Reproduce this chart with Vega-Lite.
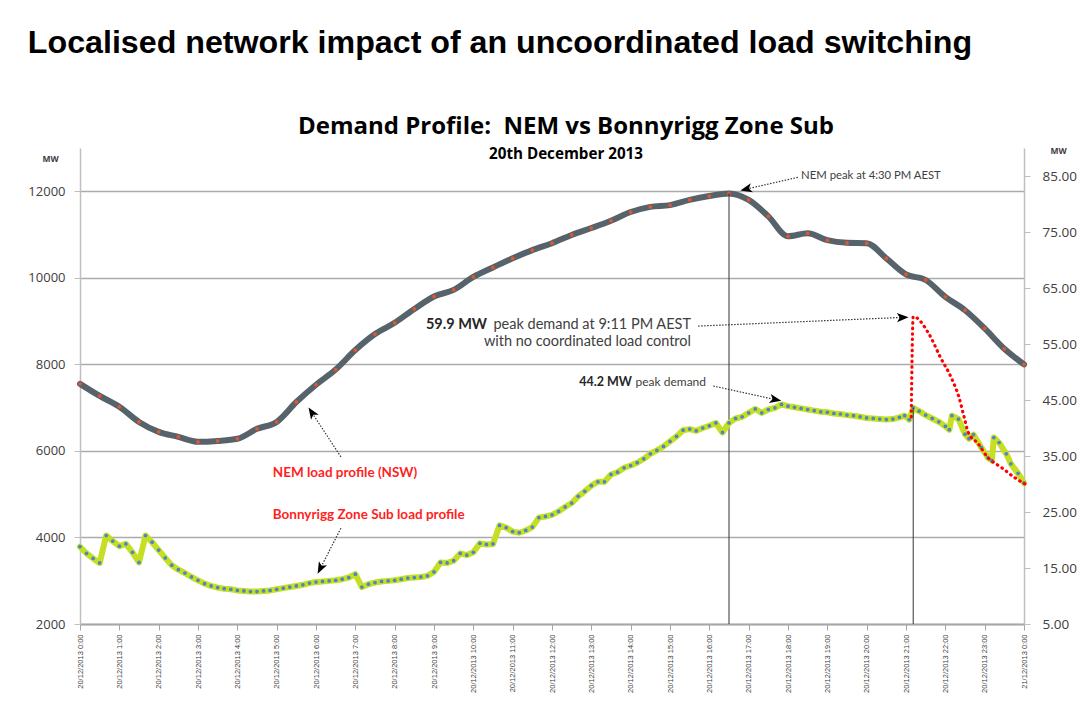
{
  "$schema": "https://vega.github.io/schema/vega-lite/v6.json",
  "background": "white",
  "padding": {"left": 27, "top": 26, "right": 0, "bottom": 0},
  "title": {"text": "Localised network impact of an uncoordinated load switching", "anchor": "start", "font": "Liberation Sans", "fontSize": 32.2, "fontWeight": "bold", "color": "#000000", "offset": 55},
  "config": {"view": {"stroke": null}},
  "vconcat": [
    {
      "width": 944,
      "height": 476,
      "title": {"text": "Demand Profile:\u00a0 NEM vs Bonnyrigg Zone Sub", "subtitle": "20th December 2013", "anchor": "middle", "dx": 14, "font": "Open Sans", "fontSize": 24, "fontWeight": "bold", "color": "#000000", "subtitleFont": "Open Sans", "subtitleFontSize": 15.2, "subtitleFontWeight": "bold", "subtitleColor": "#000000", "subtitlePadding": 8, "offset": -16},
      "resolve": {"scale": {"y": "independent"}, "axis": {"x": "independent"}},
      "layer": [
        {
          "layer": [
            {
              "data": {"values": [
                {"t":0,"v":7550},{"t":30,"v":7270},{"t":60,"v":7020},{"t":90,"v":6670},{"t":120,"v":6440},{"t":150,"v":6325},{"t":180,"v":6210},{"t":210,"v":6230},{"t":240,"v":6280},{"t":270,"v":6510},{"t":300,"v":6670},{"t":330,"v":7130},{"t":360,"v":7530},{"t":390,"v":7880},{"t":420,"v":8330},{"t":450,"v":8700},{"t":480,"v":8960},{"t":510,"v":9280},{"t":540,"v":9570},{"t":570,"v":9720},{"t":600,"v":10020},{"t":630,"v":10240},{"t":660,"v":10450},{"t":690,"v":10640},{"t":720,"v":10800},{"t":750,"v":10990},{"t":780,"v":11150},{"t":810,"v":11320},{"t":840,"v":11520},{"t":870,"v":11640},{"t":900,"v":11680},{"t":930,"v":11800},{"t":960,"v":11890},{"t":990,"v":11950},{"t":1020,"v":11800},{"t":1050,"v":11420},{"t":1080,"v":10960},{"t":1110,"v":11030},{"t":1140,"v":10870},{"t":1170,"v":10810},{"t":1200,"v":10800},{"t":1230,"v":10450},{"t":1260,"v":10080},{"t":1290,"v":9950},{"t":1320,"v":9560},{"t":1350,"v":9250},{"t":1380,"v":8830},{"t":1410,"v":8360},{"t":1440,"v":8000}
              ]},
              "layer": [
                {
                  "mark": {"type": "line", "interpolate": "monotone", "color": "#56636b", "strokeWidth": 6, "strokeCap": "round"},
                  "encoding": {
                    "x": {"field": "t", "type": "quantitative", "scale": {"domain": [0, 1440], "nice": false, "zero": false},
                      "axis": {"orient": "bottom", "title": null, "values": [0,120,240,360,480,600,720,840,960,1080,1200,1320,1440],
                        "labelExpr": "datum.value >= 1440 ? '21/12/2013 0:00' : '20/12/2013 ' + floor(datum.value/60) + ':00'",
                        "labelAngle": 270, "labelFont": "Liberation Sans", "labelFontSize": 7.5, "labelColor": "#404040", "labelOverlap": false, "labelFlush": false, "labelPadding": 4,
                        "tickSize": 6, "tickColor": "#a6a6a6", "domainColor": "#a6a6a6", "domainWidth": 1.5, "grid": false}},
                    "y": {"field": "v", "type": "quantitative", "scale": {"domain": [2000, 13000], "nice": false, "zero": false},
                      "axis": {"orient": "left", "title": "MW", "values": [2000,4000,6000,8000,10000,12000], "format": "d",
                        "grid": true, "gridColor": "#ababab", "gridWidth": 1.5, "domainColor": "#bfbfbf", "domainWidth": 1.5, "tickColor": "#bfbfbf", "tickSize": 6,
                        "labelFont": "Open Sans", "labelFontSize": 13, "labelColor": "#404040", "labelPadding": 9,
                        "titleAngle": 0, "titleX": -30, "titleY": 10, "titleAlign": "center", "titleBaseline": "middle", "titleFont": "Open Sans", "titleFontSize": 8.5, "titleFontWeight": "bold", "titleColor": "#404040"}}
                  }
                },
                {
                  "mark": {"type": "point", "filled": true, "color": "#e5562c", "size": 14, "opacity": 1},
                  "encoding": {"x": {"field": "t", "type": "quantitative"}, "y": {"field": "v", "type": "quantitative"}}
                }
              ]
            },
            {
              "data": {"values": [{"t": 990, "v": 2000, "v2": 11950}]},
              "mark": {"type": "rule", "color": "#333333", "strokeWidth": 1},
              "encoding": {"x": {"field": "t", "type": "quantitative"}, "y": {"field": "v", "type": "quantitative"}, "y2": {"field": "v2"}}
            },
            {
              "data": {"values": [{"t": 1095, "v": 12323, "t2": 1017, "v2": 12053}, {"t": 398, "v": 5863, "t2": 354, "v2": 6878}]},
              "mark": {"type": "rule", "color": "#333333", "strokeWidth": 1.2, "strokeDash": [1.5, 1.5]},
              "encoding": {"x": {"field": "t", "type": "quantitative"}, "x2": {"field": "t2"}, "y": {"field": "v", "type": "quantitative"}, "y2": {"field": "v2"}}
            },
            {
              "data": {"values": [{"t": 1017, "v": 12053}]},
              "mark": {"type": "point", "shape": "M0,-1L0.7,0.8L0,0.35L-0.7,0.8Z", "filled": true, "color": "#000000", "opacity": 1, "size": 170, "angle": 257},
              "encoding": {"x": {"field": "t", "type": "quantitative"}, "y": {"field": "v", "type": "quantitative"}}
            },
            {
              "data": {"values": [{"t": 354, "v": 6878}]},
              "mark": {"type": "point", "shape": "M0,-1L0.7,0.8L0,0.35L-0.7,0.8Z", "filled": true, "color": "#000000", "opacity": 1, "size": 170, "angle": 327},
              "encoding": {"x": {"field": "t", "type": "quantitative"}, "y": {"field": "v", "type": "quantitative"}}
            },
            {
              "data": {"values": [{"t": 1100, "v": 12346, "label": "NEM peak at 4:30 PM AEST"}]},
              "mark": {"type": "text", "align": "left", "baseline": "middle", "font": "Lato", "fontSize": 11.3, "color": "#404040"},
              "encoding": {"x": {"field": "t", "type": "quantitative"}, "y": {"field": "v", "type": "quantitative"}, "text": {"field": "label"}}
            },
            {
              "data": {"values": [{"t": 294, "v": 5494, "label": "NEM load profile (NSW)"}]},
              "mark": {"type": "text", "align": "left", "baseline": "middle", "font": "Lato", "fontSize": 13.5, "fontWeight": "bold", "color": "#ff1f1f"},
              "encoding": {"x": {"field": "t", "type": "quantitative"}, "y": {"field": "v", "type": "quantitative"}, "text": {"field": "label"}}
            }
          ]
        },
        {
          "layer": [
            {
              "data": {"values": [
                {"t":0,"v":18.8},{"t":10,"v":17.6},{"t":20,"v":16.7},{"t":30,"v":15.9},{"t":40,"v":20.8},{"t":50,"v":19.8},{"t":60,"v":18.9},{"t":70,"v":19.3},{"t":80,"v":17.8},{"t":90,"v":16.0},{"t":100,"v":20.8},{"t":110,"v":19.6},{"t":120,"v":18.2},{"t":130,"v":16.8},{"t":140,"v":15.5},{"t":150,"v":14.7},{"t":160,"v":14.1},{"t":170,"v":13.4},{"t":180,"v":12.8},{"t":190,"v":12.2},{"t":200,"v":11.8},{"t":210,"v":11.5},{"t":220,"v":11.3},{"t":230,"v":11.2},{"t":240,"v":11.0},{"t":250,"v":10.9},{"t":260,"v":10.8},{"t":270,"v":10.8},{"t":280,"v":10.9},{"t":290,"v":11.0},{"t":300,"v":11.2},{"t":310,"v":11.4},{"t":320,"v":11.6},{"t":330,"v":11.8},{"t":340,"v":12.0},{"t":350,"v":12.3},{"t":360,"v":12.5},{"t":370,"v":12.6},{"t":380,"v":12.7},{"t":390,"v":12.8},{"t":400,"v":13.0},{"t":410,"v":13.3},{"t":420,"v":13.9},{"t":430,"v":11.6},{"t":440,"v":12.1},{"t":450,"v":12.4},{"t":460,"v":12.6},{"t":470,"v":12.7},{"t":480,"v":12.8},{"t":490,"v":13.0},{"t":500,"v":13.2},{"t":510,"v":13.3},{"t":520,"v":13.4},{"t":530,"v":13.6},{"t":540,"v":14.3},{"t":550,"v":16.0},{"t":560,"v":15.9},{"t":570,"v":16.3},{"t":580,"v":17.6},{"t":590,"v":17.3},{"t":600,"v":17.8},{"t":610,"v":19.4},{"t":620,"v":19.2},{"t":630,"v":19.3},{"t":640,"v":22.6},{"t":650,"v":22.2},{"t":660,"v":21.5},{"t":670,"v":21.3},{"t":680,"v":21.7},{"t":690,"v":22.3},{"t":700,"v":24.0},{"t":710,"v":24.2},{"t":720,"v":24.5},{"t":730,"v":25.1},{"t":740,"v":25.9},{"t":750,"v":26.6},{"t":760,"v":27.8},{"t":770,"v":28.7},{"t":780,"v":29.7},{"t":790,"v":30.4},{"t":800,"v":30.4},{"t":810,"v":31.7},{"t":820,"v":32.1},{"t":830,"v":32.9},{"t":840,"v":33.3},{"t":850,"v":33.8},{"t":860,"v":34.5},{"t":870,"v":35.4},{"t":880,"v":36.0},{"t":890,"v":36.7},{"t":900,"v":37.6},{"t":910,"v":38.5},{"t":920,"v":39.6},{"t":930,"v":39.8},{"t":940,"v":39.5},{"t":950,"v":40.0},{"t":960,"v":40.4},{"t":970,"v":40.9},{"t":980,"v":39.2},{"t":990,"v":40.9},{"t":1000,"v":41.7},{"t":1010,"v":42.0},{"t":1020,"v":42.7},{"t":1030,"v":43.4},{"t":1040,"v":42.7},{"t":1050,"v":43.3},{"t":1060,"v":43.6},{"t":1070,"v":44.2},{"t":1080,"v":43.9},{"t":1090,"v":43.7},{"t":1100,"v":43.5},{"t":1110,"v":43.3},{"t":1120,"v":43.1},{"t":1130,"v":42.9},{"t":1140,"v":42.8},{"t":1150,"v":42.6},{"t":1160,"v":42.5},{"t":1170,"v":42.3},{"t":1180,"v":42.2},{"t":1190,"v":42.0},{"t":1200,"v":41.8},{"t":1210,"v":41.7},{"t":1220,"v":41.6},{"t":1230,"v":41.5},{"t":1240,"v":41.6},{"t":1250,"v":41.9},{"t":1258,"v":42.2},{"t":1265,"v":41.5},{"t":1271,"v":43.6},{"t":1280,"v":43.0},{"t":1290,"v":42.3},{"t":1300,"v":41.7},{"t":1310,"v":41.1},{"t":1320,"v":40.3},{"t":1326,"v":39.7},{"t":1330,"v":42.2},{"t":1340,"v":41.6},{"t":1350,"v":38.9},{"t":1356,"v":38.1},{"t":1363,"v":38.8},{"t":1375,"v":36.5},{"t":1385,"v":34.7},{"t":1391,"v":34.2},{"t":1394,"v":38.3},{"t":1402,"v":37.4},{"t":1413,"v":35.4},{"t":1420,"v":33.6},{"t":1431,"v":31.9},{"t":1440,"v":30.2}
              ]},
              "layer": [
                {
                  "mark": {"type": "line", "color": "#c6df23", "strokeWidth": 6, "strokeCap": "round", "strokeJoin": "round"},
                  "encoding": {
                    "x": {"field": "t", "type": "quantitative",
                      "axis": {"orient": "bottom", "title": null, "values": [60,180,300,420,540,660,780,900,1020,1140,1260,1380],
                        "labelExpr": "'20/12/2013 ' + floor(datum.value/60) + ':00'",
                        "labelAngle": 270, "labelFont": "Liberation Sans", "labelFontSize": 7.5, "labelColor": "#404040", "labelOverlap": false, "labelFlush": false, "labelPadding": 4,
                        "tickSize": 6, "tickColor": "#a6a6a6", "domainColor": "#a6a6a6", "domainWidth": 1.5, "grid": false}},
                    "y": {"field": "v", "type": "quantitative", "scale": {"domain": [5, 90], "nice": false, "zero": false},
                      "axis": {"orient": "right", "title": "MW", "values": [5,15,25,35,45,55,65,75,85], "format": ".2f", "grid": false,
                        "domainColor": "#bfbfbf", "domainWidth": 1.5, "tickColor": "#bfbfbf", "tickSize": 6,
                        "labelFont": "Open Sans", "labelFontSize": 13.5, "labelColor": "#404040", "labelPadding": 12,
                        "titleAngle": 0, "titleX": 34, "titleY": 2, "titleAlign": "center", "titleBaseline": "middle", "titleFont": "Open Sans", "titleFontSize": 8.5, "titleFontWeight": "bold", "titleColor": "#404040"}}
                  }
                },
                {
                  "mark": {"type": "point", "filled": true, "color": "#4a86c8", "size": 14, "opacity": 1},
                  "encoding": {"x": {"field": "t", "type": "quantitative"}, "y": {"field": "v", "type": "quantitative"}}
                }
              ]
            },
            {
              "data": {"values": [{"t":1268,"v":42.0},{"t":1271,"v":59.9},{"t":1294,"v":57.0},{"t":1313,"v":52.5},{"t":1329,"v":49.0},{"t":1341,"v":45.4},{"t":1349,"v":41.8},{"t":1355,"v":39.2},{"t":1370,"v":37.2},{"t":1385,"v":34.7},{"t":1405,"v":33.0},{"t":1425,"v":31.2},{"t":1440,"v":30.1},{"t":1447,"v":29.6}]},
              "mark": {"type": "line", "interpolate": "monotone", "color": "#ff0000", "strokeWidth": 3.2, "strokeCap": "round", "strokeDash": [0.5, 5]},
              "encoding": {"x": {"field": "t", "type": "quantitative"}, "y": {"field": "v", "type": "quantitative"}}
            },
            {
              "data": {"values": [{"t": 1271, "v": 5, "v2": 43.6}]},
              "mark": {"type": "rule", "color": "#333333", "strokeWidth": 1},
              "encoding": {"x": {"field": "t", "type": "quantitative"}, "y": {"field": "v", "type": "quantitative"}, "y2": {"field": "v2"}}
            },
            {
              "data": {"values": [{"t": 943, "v": 58.2, "t2": 1254, "v2": 59.75}, {"t": 966, "v": 47.5, "t2": 1060, "v2": 45.09}, {"t": 398, "v": 22.1, "t2": 367, "v2": 15.02}]},
              "mark": {"type": "rule", "color": "#333333", "strokeWidth": 1.2, "strokeDash": [1.5, 1.5]},
              "encoding": {"x": {"field": "t", "type": "quantitative"}, "x2": {"field": "t2"}, "y": {"field": "v", "type": "quantitative"}, "y2": {"field": "v2"}}
            },
            {
              "data": {"values": [{"t": 1254, "v": 59.75}]},
              "mark": {"type": "point", "shape": "M0,-1L0.7,0.8L0,0.35L-0.7,0.8Z", "filled": true, "color": "#000000", "opacity": 1, "size": 170, "angle": 88},
              "encoding": {"x": {"field": "t", "type": "quantitative"}, "y": {"field": "v", "type": "quantitative"}}
            },
            {
              "data": {"values": [{"t": 1060, "v": 45.09}]},
              "mark": {"type": "point", "shape": "M0,-1L0.7,0.8L0,0.35L-0.7,0.8Z", "filled": true, "color": "#000000", "opacity": 1, "size": 170, "angle": 102},
              "encoding": {"x": {"field": "t", "type": "quantitative"}, "y": {"field": "v", "type": "quantitative"}}
            },
            {
              "data": {"values": [{"t": 367, "v": 15.02}]},
              "mark": {"type": "point", "shape": "M0,-1L0.7,0.8L0,0.35L-0.7,0.8Z", "filled": true, "color": "#000000", "opacity": 1, "size": 170, "angle": 207},
              "encoding": {"x": {"field": "t", "type": "quantitative"}, "y": {"field": "v", "type": "quantitative"}}
            },
            {
              "data": {"values": [{"t": 621, "v": 58.38, "label": "59.9 MW"}]},
              "mark": {"type": "text", "align": "right", "baseline": "middle", "font": "Lato", "fontSize": 14.5, "fontWeight": "bold", "color": "#262626"},
              "encoding": {"x": {"field": "t", "type": "quantitative"}, "y": {"field": "v", "type": "quantitative"}, "text": {"field": "label"}}
            },
            {
              "data": {"values": [{"t": 932, "v": 58.38, "label": "peak demand at 9:11 PM AEST"}, {"t": 932, "v": 55.36, "label": "with no coordinated load control"}]},
              "mark": {"type": "text", "align": "right", "baseline": "middle", "font": "Lato", "fontSize": 14.5, "color": "#404040"},
              "encoding": {"x": {"field": "t", "type": "quantitative"}, "y": {"field": "v", "type": "quantitative"}, "text": {"field": "label"}}
            },
            {
              "data": {"values": [{"t": 842, "v": 48.24, "label": "44.2 MW"}]},
              "mark": {"type": "text", "align": "right", "baseline": "middle", "font": "Lato", "fontSize": 12.5, "fontWeight": "bold", "color": "#262626"},
              "encoding": {"x": {"field": "t", "type": "quantitative"}, "y": {"field": "v", "type": "quantitative"}, "text": {"field": "label"}}
            },
            {
              "data": {"values": [{"t": 955, "v": 48.24, "label": "peak demand"}]},
              "mark": {"type": "text", "align": "right", "baseline": "middle", "font": "Lato", "fontSize": 12, "color": "#404040"},
              "encoding": {"x": {"field": "t", "type": "quantitative"}, "y": {"field": "v", "type": "quantitative"}, "text": {"field": "label"}}
            },
            {
              "data": {"values": [{"t": 294, "v": 24.4, "label": "Bonnyrigg Zone Sub load profile"}]},
              "mark": {"type": "text", "align": "left", "baseline": "middle", "font": "Lato", "fontSize": 13.5, "fontWeight": "bold", "color": "#ff1f1f"},
              "encoding": {"x": {"field": "t", "type": "quantitative"}, "y": {"field": "v", "type": "quantitative"}, "text": {"field": "label"}}
            }
          ]
        }
      ]
    }
  ]
}
